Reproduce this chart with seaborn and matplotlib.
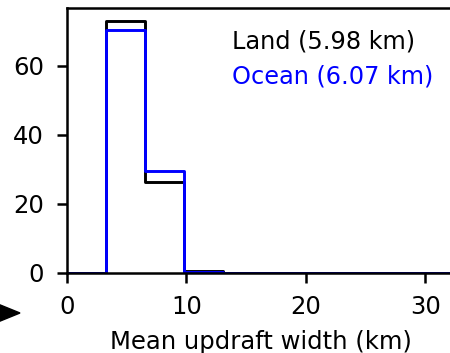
import numpy as np
import pandas as pd
import matplotlib
matplotlib.use("Agg")
import matplotlib.pyplot as plt
from matplotlib.patches import Polygon
import seaborn as sns

# bin edges (km) and percentage of updrafts per bin
bin_edges = [0.0, 3.27, 6.53, 9.8, 13.07, 16.33, 19.6, 22.87, 26.13, 29.4, 32.67]
land_pct = [0.0, 73.0, 26.4, 0.6, 0.0, 0.0, 0.0, 0.0, 0.0, 0.0]
ocean_pct = [0.0, 70.3, 29.5, 0.4, 0.0, 0.0, 0.0, 0.0, 0.0, 0.0]
labels = ["Land (5.98 km)", "Ocean (6.07 km)"]
colors = ["black", "#0000ff"]

centers = [(a + b) / 2 for a, b in zip(bin_edges[:-1], bin_edges[1:])]
df = pd.DataFrame({
    "width": centers * 2,
    "pct": land_pct + ocean_pct,
    "surface": [labels[0]] * len(centers) + [labels[1]] * len(centers),
})

sns.set_style("ticks", rc={"axes.edgecolor": "black", "xtick.color": "black",
                           "ytick.color": "black", "text.color": "black",
                           "axes.labelcolor": "black"})
plt.rcParams["font.family"] = ["DejaVu Sans"]

fig = plt.figure(figsize=(4.5, 3.53), dpi=100)
ax = fig.add_axes([67 / 450, 80 / 353, 388 / 450, 265 / 353])

for lab, col in zip(labels, colors):
    sns.histplot(data=df[df["surface"] == lab], x="width", weights="pct",
                 bins=bin_edges, element="step", fill=False, color=col,
                 linewidth=2.1, ax=ax, label=lab)

ax.set_xlim(0, 32.5)
ax.set_ylim(0, 76.8)
ax.set_xticks([0, 10, 20, 30])
ax.set_yticks([0, 20, 40, 60])
ax.set_xlabel("Mean updraft width (km)", fontsize=17.5, labelpad=8.5)
ax.set_ylabel("")
ax.tick_params(labelsize=17.5, length=7, width=1.8)
ax.tick_params(axis="x", pad=8.5)
ax.tick_params(axis="y", pad=9.5)
for s in ax.spines.values():
    s.set_linewidth(1.8)

leg = ax.legend(loc="upper left", bbox_to_anchor=(0.425, 0.919), frameon=False,
                handlelength=0, handletextpad=0, borderpad=0, borderaxespad=0,
                labelspacing=0.47, fontsize=17.3)
for h in leg.legend_handles:
    h.set_visible(False)
for t, col in zip(leg.get_texts(), colors):
    t.set_color(col)

# arrow head peeking in at the lower left
tri = Polygon([(-12 / 450, 53 / 353), (20 / 450, 40 / 353), (-12 / 450, 27 / 353)],
              closed=True, color="black", transform=fig.transFigure)
fig.patches.append(tri)

fig.savefig("out.png", dpi=100)
plt.close()
